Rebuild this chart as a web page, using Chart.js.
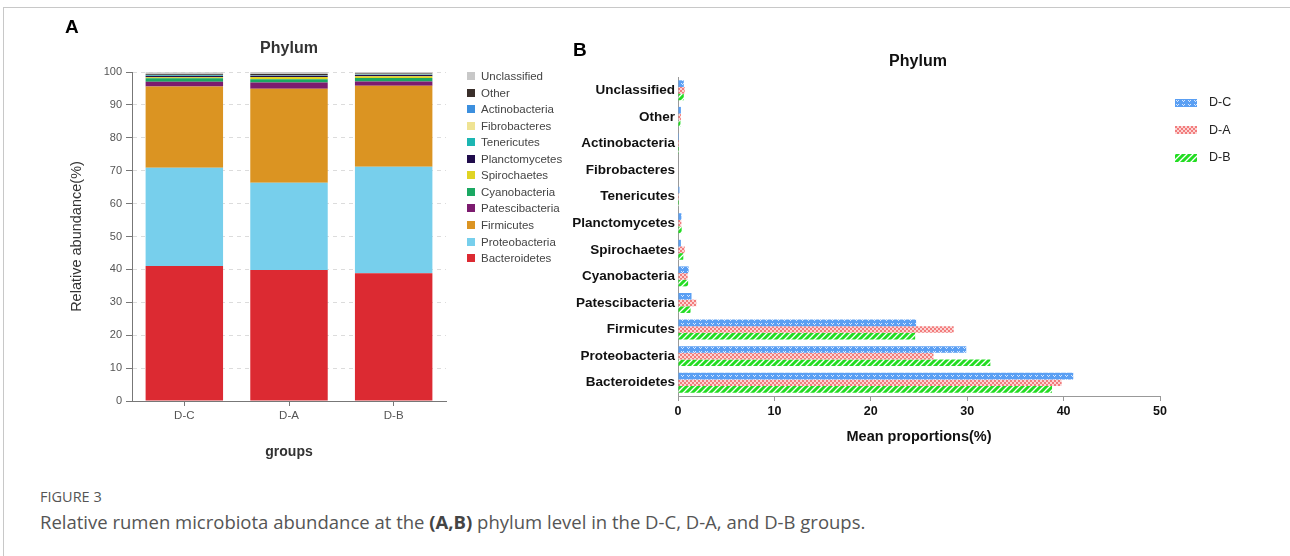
<!DOCTYPE html>
<html><head><meta charset="utf-8">
<script src="https://cdn.jsdelivr.net/npm/chart.js@4.4.1/dist/chart.umd.min.js"></script>
<style>
html,body{margin:0;padding:0;background:#fff;width:1290px;height:556px;overflow:hidden;font-family:"Liberation Sans",Arial,sans-serif;}
#frame{position:absolute;left:3px;top:7px;width:1290px;height:560px;border-top:1px solid #c8c8c8;border-left:1px solid #c8c8c8;}
canvas{position:absolute;}
.abs{position:absolute;white-space:nowrap;}
.ttl{font-weight:bold;font-size:16px;color:#333;transform:translate(-50%,-50%);}
.pl{font-weight:bold;font-size:19px;color:#000;}
.lg1{position:absolute;left:467px;font-size:11.5px;color:#444;height:16px;line-height:16px;}
.lg1 i{display:inline-block;width:8px;height:8px;margin-right:6px;vertical-align:-0px;}
.lg2{position:absolute;left:1175px;font-size:12.5px;color:#222;height:16px;line-height:16px;}
.lg2 canvas{position:static;display:inline-block;vertical-align:middle;margin-right:12px;}
#fig{left:40px;top:487px;font-family:"Open Sans",sans-serif;font-size:14.5px;color:#555;line-height:normal;}
#cap{left:40px;top:509px;font-family:"Open Sans",sans-serif;font-size:18.5px;color:#555;line-height:normal;}
</style></head>
<body>
<div id="frame"></div>
<canvas id="c1" width="600" height="470" style="left:0;top:0;width:600px;height:470px"></canvas>
<canvas id="c2" width="640" height="430" style="left:560px;top:30px;width:640px;height:430px"></canvas>
<div class="abs pl" style="left:65px;top:16px">A</div>
<div class="abs pl" style="left:573px;top:39px">B</div>
<div class="abs ttl" style="left:289px;top:48px">Phylum</div>
<div class="abs ttl" style="left:918px;top:61px;color:#111">Phylum</div>
<div id="leg1"></div>
<div id="leg2"></div>
<div class="abs" id="fig">FIGURE 3</div>
<div class="abs" id="cap">Relative rumen microbiota abundance at the <b style="color:#444">(A,B)</b> phylum level in the D-C, D-A, and D-B groups.</div>
<script>
// ---- data ----
const groups = ['D-C', 'D-A', 'D-B'];
const phyla = ['Bacteroidetes','Proteobacteria','Firmicutes','Patescibacteria','Cyanobacteria','Spirochaetes','Planctomycetes','Tenericutes','Fibrobacteres','Actinobacteria','Other','Unclassified'];
const dc = [41.0, 29.9, 24.7, 1.4, 1.1, 0.3, 0.35, 0.15, 0.05, 0.1, 0.3, 0.6];
const da = [39.8, 26.5, 28.6, 1.9, 1.0, 0.7, 0.35, 0.1, 0.05, 0.1, 0.3, 0.7];
const db = [38.8, 32.4, 24.6, 1.3, 1.05, 0.55, 0.38, 0.1, 0.05, 0.1, 0.25, 0.6];
const yTicksA = [0,10,20,30,40,50,60,70,80,90,100];
const xTicksB = [0,10,20,30,40,50];

const phylaColors = ['#dc2a32','#77cfec','#db9422','#7c1b6f','#1aa862','#e0d424','#200c4c','#1cb6b2','#efe393','#3c8fde','#3a2f2b','#c8c8c8'];
const F = '"Liberation Sans", Arial, sans-serif';

// ---- patterns ----
function mkPat(kind){
  const c=document.createElement('canvas');
  const x=c.getContext('2d');
  if(kind==='C'){c.width=6;c.height=4;x.fillStyle='#5a9ff3';x.fillRect(0,0,6,4);x.fillStyle='#d8e8ff';x.fillRect(1,1,1,1);x.fillRect(3,1,1,1);x.fillRect(2,2,1,1);}
  else if(kind==='A'){c.width=4;c.height=4;x.fillStyle='#fbd4d4';x.fillRect(0,0,4,4);x.fillStyle='#f27c7c';x.fillRect(0,0,2,2);x.fillRect(2,2,2,2);}
  else {c.width=6;c.height=6;x.fillStyle='#22dd22';x.fillRect(0,0,6,6);x.strokeStyle='#ffffff';x.lineWidth=1.3;x.beginPath();x.moveTo(-1,7);x.lineTo(7,-1);x.moveTo(-4,4);x.lineTo(4,-4);x.moveTo(2,10);x.lineTo(10,2);x.stroke();}
  return c;
}
const ctx2=document.getElementById('c2').getContext('2d');
const patC=ctx2.createPattern(mkPat('C'),'repeat');
const patA=ctx2.createPattern(mkPat('A'),'repeat');
const patB=ctx2.createPattern(mkPat('B'),'repeat');

// ---- left legend ----
const leg1=document.getElementById('leg1');
const order=phyla.map((p,i)=>i).reverse();
order.forEach((i,k)=>{
  const d=document.createElement('div');d.className='lg1';
  d.style.top=(76+k*16.55-8)+'px';
  d.innerHTML='<i style="background:'+phylaColors[i]+'"></i>'+phyla[i];
  leg1.appendChild(d);
});
// ---- right legend ----
const leg2=document.getElementById('leg2');
[['D-C','C',102],['D-A','A',129.5],['D-B','B',157]].forEach(([t,k,y])=>{
  const d=document.createElement('div');d.className='lg2';d.style.top=(y-8)+'px';
  const cv=document.createElement('canvas');cv.width=22;cv.height=8;cv.style.width='22px';cv.style.height='8px';
  const cx=cv.getContext('2d');cx.fillStyle=cx.createPattern(mkPat(k),'repeat');cx.fillRect(0,0,22,8);
  d.appendChild(cv);d.appendChild(document.createTextNode(t));leg2.appendChild(d);
});

// ---- chart A ----
new Chart(document.getElementById('c1'),{
  type:'bar',
  data:{labels:groups,datasets:phyla.map((p,i)=>({label:p,data:[dc[i],da[i],db[i]],backgroundColor:phylaColors[i],borderWidth:0,categoryPercentage:0.74,barPercentage:1}))},
  options:{responsive:false,animation:false,devicePixelRatio:1,
    layout:{padding:{top:72,right:154,left:0,bottom:0}},
    plugins:{legend:{display:false},tooltip:{enabled:false}},
    scales:{
      x:{stacked:true,
        grid:{display:true,drawOnChartArea:false,drawTicks:true,tickLength:5,offset:false,tickColor:'#777'},
        border:{color:'#777'},
        ticks:{font:{size:11.5,family:F},color:'#555',padding:3},
        title:{display:true,text:'groups',font:{size:14,weight:'bold',family:F},color:'#333',padding:{top:0,bottom:9}},
        afterFit:s=>{s.height=69;}},
      y:{stacked:true,min:0,max:100,
        afterBuildTicks:s=>{s.ticks=yTicksA.map(v=>({value:v}));},
        ticks:{font:{size:11,family:F},color:'#555',padding:4},
        grid:{color:c=>c.tick&&c.tick.value===0?'rgba(0,0,0,0)':'#dcdcdc',tickColor:'#777',tickLength:6},
        border:{color:'#777',dash:[4,4]},
        title:{display:true,text:'Relative abundance(%)',font:{size:14.5,family:F},color:'#333',padding:{top:68,bottom:0}},
        afterFit:s=>{s.width=132;}}
    }
  }
});

// ---- chart B ----
const rev=a=>a.slice().reverse();
new Chart(document.getElementById('c2'),{
  type:'bar',
  data:{labels:rev(phyla),datasets:[
    {label:'D-C',data:rev(dc),backgroundColor:patC,borderWidth:0,categoryPercentage:0.75,barPercentage:1},
    {label:'D-A',data:rev(da),backgroundColor:patA,borderWidth:0,categoryPercentage:0.75,barPercentage:1},
    {label:'D-B',data:rev(db),backgroundColor:patB,borderWidth:0,categoryPercentage:0.75,barPercentage:1}
  ]},
  options:{indexAxis:'y',responsive:false,animation:false,devicePixelRatio:1,
    layout:{padding:{top:47,right:40,left:0,bottom:0}},
    plugins:{legend:{display:false},tooltip:{enabled:false}},
    scales:{
      x:{min:0,max:50,
        afterBuildTicks:s=>{s.ticks=xTicksB.map(v=>({value:v}));},
        ticks:{font:{size:12.5,weight:'bold',family:F},color:'#111',padding:3},
        grid:{drawOnChartArea:false,drawTicks:true,tickLength:5,tickColor:'#999'},
        border:{color:'#999'},
        title:{display:true,text:'Mean proportions(%)',font:{size:14.5,weight:'bold',family:F},color:'#111',padding:{top:0,bottom:14}},
        afterFit:s=>{s.height=64;}},
      y:{grid:{display:false,drawTicks:false},border:{display:true,color:'#999'},
        ticks:{font:{size:13.5,weight:'bold',family:F},color:'#111',padding:3},
        afterFit:s=>{s.width=118;}}
    }
  }
});
</script>
</body></html>
